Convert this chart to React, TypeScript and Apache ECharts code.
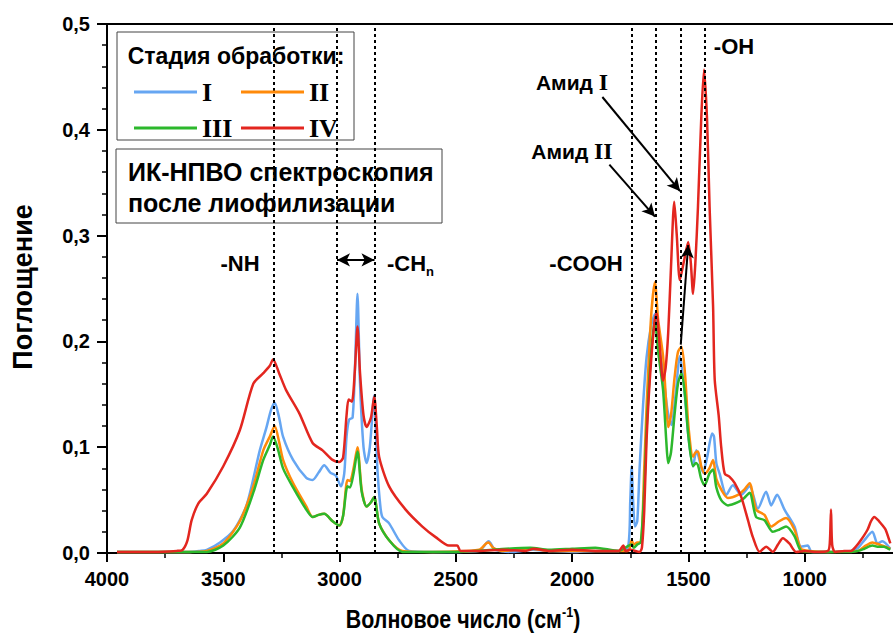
import React, { useEffect, useRef } from "react";
import * as echarts from "echarts";

// ---- Data (wavenumber, cm^-1 / absorbance) ----
const wnI = [3957, 3800, 3650, 3600, 3571, 3514, 3457, 3400, 3343, 3314, 3295, 3279, 3260, 3243, 3200, 3143, 3116, 3090, 3066, 3040, 3016, 2994, 2980, 2970, 2959, 2944, 2933, 2923, 2912, 2897, 2884, 2870, 2851, 2843, 2837, 2825, 2816, 2787, 2744, 2701, 2600, 2500, 2400, 2359, 2330, 2250, 2170, 2100, 2000, 1900, 1800, 1760, 1750, 1744, 1738, 1730, 1720, 1710, 1695, 1680, 1660, 1644, 1630, 1609, 1590, 1573, 1555, 1537, 1520, 1500, 1480, 1466, 1455, 1437, 1420, 1398, 1390, 1380, 1366, 1337, 1309, 1273, 1237, 1201, 1166, 1144, 1119, 1087, 1044, 1016, 987, 970, 900, 800, 770, 744, 709, 687, 666, 632];
const absI = [0.001, 0.001, 0.001, 0.002, 0.003, 0.010, 0.021, 0.045, 0.097, 0.119, 0.135, 0.142, 0.128, 0.110, 0.088, 0.071, 0.069, 0.076, 0.083, 0.076, 0.073, 0.063, 0.075, 0.110, 0.126, 0.128, 0.180, 0.245, 0.160, 0.100, 0.085, 0.100, 0.149, 0.110, 0.078, 0.045, 0.034, 0.028, 0.012, 0.002, 0.001, 0.001, 0.002, 0.011, 0.003, 0.001, 0.003, 0.002, 0.001, 0.002, 0.002, 0.005, 0.050, 0.082, 0.050, 0.025, 0.030, 0.080, 0.140, 0.185, 0.215, 0.226, 0.200, 0.170, 0.135, 0.121, 0.150, 0.186, 0.160, 0.110, 0.082, 0.097, 0.090, 0.076, 0.090, 0.113, 0.110, 0.085, 0.075, 0.055, 0.064, 0.055, 0.063, 0.042, 0.058, 0.045, 0.055, 0.041, 0.025, 0.006, 0.007, 0.001, 0.001, 0.002, 0.005, 0.012, 0.020, 0.009, 0.011, 0.004];

const wnII = [3957, 3650, 3571, 3500, 3429, 3371, 3328, 3300, 3279, 3260, 3243, 3200, 3143, 3116, 3090, 3066, 3030, 3001, 2985, 2966, 2955, 2940, 2923, 2905, 2884, 2865, 2851, 2830, 2787, 2730, 2600, 2400, 2370, 2359, 2340, 2300, 2180, 2100, 1900, 1760, 1744, 1735, 1720, 1705, 1690, 1680, 1660, 1644, 1630, 1609, 1595, 1587, 1575, 1560, 1545, 1530, 1515, 1500, 1480, 1470, 1459, 1445, 1430, 1410, 1394, 1380, 1359, 1330, 1287, 1260, 1237, 1209, 1173, 1144, 1110, 1080, 1044, 1016, 980, 900, 770, 744, 709, 680, 632];
const absII = [0.001, 0.001, 0.002, 0.009, 0.030, 0.063, 0.097, 0.110, 0.120, 0.105, 0.088, 0.066, 0.044, 0.034, 0.036, 0.037, 0.030, 0.026, 0.035, 0.069, 0.068, 0.080, 0.100, 0.060, 0.044, 0.048, 0.053, 0.028, 0.012, 0.002, 0.001, 0.003, 0.009, 0.010, 0.005, 0.002, 0.004, 0.002, 0.002, 0.002, 0.012, 0.008, 0.010, 0.010, 0.080, 0.138, 0.225, 0.256, 0.220, 0.186, 0.140, 0.119, 0.130, 0.165, 0.190, 0.195, 0.170, 0.120, 0.091, 0.095, 0.096, 0.082, 0.075, 0.080, 0.088, 0.070, 0.060, 0.052, 0.055, 0.060, 0.066, 0.041, 0.036, 0.025, 0.030, 0.033, 0.022, 0.004, 0.002, 0.001, 0.002, 0.006, 0.010, 0.008, 0.004];

const wnIII = [3957, 3650, 3571, 3500, 3429, 3371, 3328, 3300, 3286, 3265, 3243, 3200, 3143, 3116, 3090, 3066, 3030, 3001, 2985, 2966, 2955, 2940, 2923, 2905, 2884, 2865, 2851, 2830, 2787, 2730, 2500, 2180, 2100, 2000, 1900, 1800, 1744, 1735, 1720, 1705, 1690, 1680, 1660, 1644, 1630, 1609, 1595, 1587, 1575, 1560, 1545, 1530, 1515, 1500, 1480, 1468, 1459, 1445, 1430, 1410, 1394, 1380, 1359, 1330, 1287, 1260, 1237, 1209, 1173, 1137, 1110, 1080, 1044, 1016, 980, 800, 770, 744, 709, 687, 660, 632];
const absIII = [0.001, 0.001, 0.001, 0.007, 0.024, 0.057, 0.088, 0.102, 0.110, 0.098, 0.080, 0.062, 0.041, 0.034, 0.036, 0.037, 0.030, 0.026, 0.035, 0.063, 0.062, 0.075, 0.096, 0.058, 0.044, 0.048, 0.053, 0.028, 0.012, 0.001, 0.001, 0.005, 0.003, 0.004, 0.005, 0.002, 0.008, 0.005, 0.008, 0.010, 0.060, 0.117, 0.190, 0.220, 0.190, 0.154, 0.105, 0.085, 0.095, 0.130, 0.160, 0.170, 0.150, 0.110, 0.082, 0.085, 0.083, 0.070, 0.064, 0.075, 0.079, 0.062, 0.050, 0.045, 0.048, 0.052, 0.057, 0.034, 0.031, 0.020, 0.022, 0.025, 0.016, 0.002, 0.001, 0.001, 0.002, 0.004, 0.007, 0.006, 0.006, 0.003];

const wnIV = [3957, 3800, 3700, 3675, 3654, 3636, 3607, 3571, 3500, 3429, 3371, 3328, 3300, 3286, 3260, 3230, 3173, 3116, 3073, 3030, 3001, 2985, 2970, 2961, 2947, 2935, 2923, 2912, 2897, 2884, 2865, 2851, 2840, 2830, 2787, 2716, 2644, 2587, 2530, 2494, 2480, 2400, 2300, 2200, 2166, 2100, 2000, 1900, 1800, 1780, 1770, 1750, 1710, 1700, 1690, 1680, 1670, 1659, 1645, 1637, 1625, 1609, 1598, 1587, 1575, 1561, 1550, 1537, 1520, 1501, 1490, 1480, 1470, 1459, 1445, 1433, 1420, 1409, 1394, 1387, 1370, 1359, 1344, 1323, 1301, 1273, 1244, 1223, 1194, 1166, 1137, 1115, 1094, 1066, 1037, 1000, 950, 900, 892, 887, 882, 870, 830, 801, 780, 759, 730, 715, 701, 680, 665, 652, 632];
const absIV = [0.001, 0.001, 0.002, 0.003, 0.012, 0.031, 0.047, 0.056, 0.082, 0.116, 0.160, 0.170, 0.177, 0.183, 0.170, 0.154, 0.132, 0.104, 0.097, 0.088, 0.086, 0.090, 0.130, 0.145, 0.143, 0.170, 0.214, 0.170, 0.130, 0.119, 0.128, 0.148, 0.120, 0.091, 0.063, 0.041, 0.025, 0.015, 0.007, 0.007, 0.002, 0.002, 0.003, 0.002, 0.004, 0.002, 0.003, 0.002, 0.002, 0.007, 0.002, 0.003, 0.001, 0.005, 0.040, 0.107, 0.150, 0.186, 0.220, 0.2265, 0.200, 0.163, 0.175, 0.208, 0.270, 0.332, 0.300, 0.258, 0.275, 0.294, 0.275, 0.245, 0.275, 0.327, 0.410, 0.457, 0.410, 0.327, 0.233, 0.164, 0.130, 0.100, 0.075, 0.072, 0.066, 0.053, 0.031, 0.015, 0.001, 0.006, 0.001, 0.008, 0.014, 0.009, 0.001, 0.002, 0.001, 0.002, 0.010, 0.041, 0.008, 0.001, 0.002, 0.002, 0.006, 0.012, 0.022, 0.030, 0.034, 0.030, 0.026, 0.022, 0.009];

const seriesNames = ["I", "II", "III", "IV"];
const seriesColors = ["#66a6f2", "#ff8a0a", "#2cb82c", "#e3261f"];

// marker lines (cm^-1)
const markerWn = [3284, 3011, 2850, 1744, 1642, 1533, 1430];

// arrows: [startWn, startAbs, endWn, endAbs]
const arrowAmideI = [1870, 0.431, 1536, 0.342];
const arrowAmideII = [1840, 0.367, 1644, 0.318];
const arrowShift = [1533, 0.197, 1501, 0.291];
const arrowCH = [3011, 0.277, 2850, 0.277];

const yTicks = [0, 0.1, 0.2, 0.3, 0.4, 0.5];
const xMin = 500;
const xMax = 4000;

const SANS = "'Liberation Sans', Arial, sans-serif";
const SERIF = "'Liberation Serif', 'Times New Roman', serif";

function zip(xs: number[], ys: number[]) {
  return xs.map((x, i) => [x, ys[i]]);
}

export default function App() {
  const ref = useRef<HTMLDivElement>(null);
  useEffect(() => {
    if (!ref.current) return;
    const chart = echarts.init(ref.current, undefined, { renderer: "svg" });
    const allData = [zip(wnI, absI), zip(wnII, absII), zip(wnIII, absIII), zip(wnIV, absIV)];

    const series: any[] = allData.map((d, i) => ({
      name: seriesNames[i],
      type: "line",
      data: d,
      showSymbol: false,
      symbol: "none",
      smooth: 0.25,
      lineStyle: { color: seriesColors[i], width: 2.5 },
      itemStyle: { color: seriesColors[i] },
      z: 2,
      silent: true,
    }));

    series[0].markLine = {
      silent: true,
      symbol: "none",
      label: { show: false },
      lineStyle: { color: "#000", width: 2, type: [3, 3] },
      emphasis: { disabled: true },
      data: markerWn.map((v) => ({ xAxis: v })),
    };

    const arr = (a: number[], both = false) => [
      { coord: [a[0], a[1]], symbol: both ? "arrow" : "none" },
      { coord: [a[2], a[3]], symbol: "arrow" },
    ];
    series[3].markLine = {
      silent: true,
      symbolSize: [10, 13],
      label: { show: false },
      lineStyle: { color: "#000", width: 2, type: "solid" },
      emphasis: { disabled: true },
      data: [arr(arrowAmideI), arr(arrowAmideII), arr(arrowShift), arr(arrowCH, true)],
    };

    const txt = (x: number, y: number, text: string, extra: any = {}) => ({
      type: "text",
      x,
      y,
      z: 100,
      style: {
        text,
        fill: "#000",
        font: `bold 22px ${SANS}`,
        textAlign: "center",
        textVerticalAlign: "middle",
        ...extra,
      },
    });

    const legendCommon = {
      orient: "vertical",
      top: 74,
      icon: "rect",
      itemWidth: 63,
      itemHeight: 3,
      itemGap: 10,
      selectedMode: false,
      z: 20,
      textStyle: { fontFamily: SERIF, fontWeight: "bold", fontSize: 26, color: "#000", lineHeight: 26 },
    };

    chart.setOption({
      animation: false,
      grid: {
        left: 107,
        top: 24,
        right: 0,
        bottom: 84,
        show: true,
        borderColor: "#000",
        borderWidth: 2,
      },
      legend: [
        { ...legendCommon, data: ["I", "III"], left: 129 },
        { ...legendCommon, data: ["II", "IV"], left: 236 },
      ],
      xAxis: {
        type: "value",
        min: xMin,
        max: xMax,
        interval: 500,
        inverse: true,
        axisLine: { lineStyle: { color: "#000", width: 2 } },
        axisTick: { length: 9, lineStyle: { color: "#000", width: 2 } },
        minorTick: { show: true, splitNumber: 2, length: 5, lineStyle: { color: "#000", width: 1.5 } },
        splitLine: { show: false },
        axisLabel: {
          color: "#000",
          fontSize: 20,
          fontWeight: "bold",
          fontFamily: SANS,
          margin: 16,
          formatter: (v: number) => (v >= 1000 ? String(v) : ""),
        },
      },
      yAxis: {
        type: "value",
        min: yTicks[0],
        max: yTicks[yTicks.length - 1],
        interval: 0.1,
        axisLine: { show: true, lineStyle: { color: "#000", width: 2 } },
        axisTick: { show: true, length: 10, lineStyle: { color: "#000", width: 2 } },
        minorTick: { show: true, splitNumber: 5, length: 5, lineStyle: { color: "#000", width: 1.5 } },
        splitLine: { show: false },
        axisLabel: {
          color: "#000",
          fontSize: 20,
          fontWeight: "bold",
          fontFamily: SANS,
          margin: 17,
          formatter: (v: number) => v.toFixed(1).replace(".", ","),
        },
      },
      graphic: [
        {
          type: "rect",
          z: 5,
          shape: { x: 117, y: 32, width: 237, height: 108 },
          style: { fill: "#fff", stroke: "#444", lineWidth: 1 },
        },
        {
          type: "rect",
          z: 5,
          shape: { x: 116, y: 149, width: 326, height: 74 },
          style: { fill: "#fff", stroke: "#444", lineWidth: 1 },
        },
        txt(236, 56, "Стадия обработки:", { font: `bold 23px ${SANS}` }),
        txt(128, 172, "ИК-НПВО спектроскопия", { textAlign: "left", font: `bold 25px ${SANS}` }),
        txt(128, 203, "после лиофилизации", { textAlign: "left", font: `bold 25px ${SANS}` }),
        txt(240, 263, "-NH"),
        {
          type: "text",
          x: 387,
          y: 263,
          z: 100,
          style: {
            text: "{a|-CH}{n|n}",
            textAlign: "left",
            textVerticalAlign: "middle",
            rich: {
              a: { font: `bold 22px ${SANS}`, fill: "#000", lineHeight: 30, verticalAlign: "middle" },
              n: { font: `bold 13px ${SANS}`, fill: "#000", lineHeight: 13, verticalAlign: "bottom" },
            },
          },
        },
        txt(586, 263, "-COOH"),
        txt(734, 46, "-OH"),
        {
          type: "text",
          x: 572,
          y: 82,
          z: 100,
          style: {
            text: "{a|Амид }{r|I}",
            textAlign: "center",
            textVerticalAlign: "middle",
            rich: {
              a: { font: `bold 21px ${SANS}`, fill: "#000" },
              r: { font: `bold 24px ${SERIF}`, fill: "#000" },
            },
          },
        },
        {
          type: "text",
          x: 572,
          y: 151,
          z: 100,
          style: {
            text: "{a|Амид }{r|II}",
            textAlign: "center",
            textVerticalAlign: "middle",
            rich: {
              a: { font: `bold 21px ${SANS}`, fill: "#000" },
              r: { font: `bold 24px ${SERIF}`, fill: "#000" },
            },
          },
        },
        {
          type: "text",
          x: 23,
          y: 287,
          z: 100,
          rotation: Math.PI / 2,
          style: {
            text: "Поглощение",
            fill: "#000",
            font: `bold 27px ${SANS}`,
            textAlign: "center",
            textVerticalAlign: "middle",
          },
        },
        {
          type: "text",
          x: 463,
          y: 619,
          z: 100,
          scaleX: 0.84,
          style: {
            text: "{a|Волновое число (см}{s|-1}{a|)}",
            textAlign: "center",
            textVerticalAlign: "middle",
            rich: {
              a: { font: `bold 25.5px ${SANS}`, fill: "#000", lineHeight: 30 },
              s: { font: `bold 15px ${SANS}`, fill: "#000", lineHeight: 15, verticalAlign: "top" },
            },
          },
        },
      ],
      series,
    });
    return () => chart.dispose();
  }, []);
  return (
    <div style={{ position: "absolute", left: 0, top: 0, width: 893, height: 637, overflow: "hidden" }}>
      <div ref={ref} style={{ width: 924, height: 637 }} />
    </div>
  );
}
